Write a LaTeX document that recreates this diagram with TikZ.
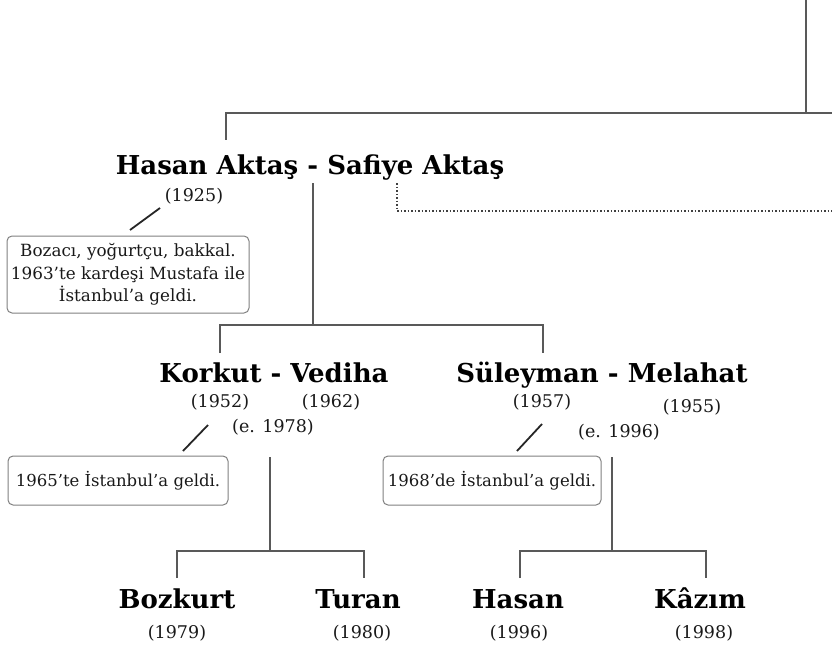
\documentclass[tikz,border=0pt]{standalone}
\usepackage{fontspec}
\setmainfont{DejaVu Serif}
\begin{document}
\begin{tikzpicture}[x=1pt,y=-1pt,
  conn/.style={draw=black!65,line width=1.3pt},
  slash/.style={draw=black!85,line width=1.8pt},
  dotl/.style={draw=black!75,line width=1.5pt,dotted},
  pname/.style={font=\fontsize{26}{29}\selectfont\bfseries,text=black,inner sep=0pt,anchor=base},
  yr/.style={font=\fontsize{17.5}{19}\selectfont,text=black!90,inner sep=0pt},
  note/.style={draw=black!50,line width=1pt,rounded corners=5pt,font=\fontsize{16.8}{22.5}\selectfont,text=black!90,align=center,inner sep=0pt},
  note1/.style={note,font=\fontsize{16.5}{21}\selectfont}]
\useasboundingbox (0,0) rectangle (832,650);
% generation 1
\node[pname] (g1) at (310,174) {Hasan Aktaş - Safiye Aktaş};
\node[yr] (y1925) at (194,196) {(1925)};
\node[note,minimum width=242pt,minimum height=77pt] (n1) at (128,274.5) {Bozacı, yoğurtçu, bakkal.\\1963'te kardeşi Mustafa ile\\İstanbul'a geldi.};
\coordinate (top) at (806,0);
\coordinate (tj) at (806,113);
\coordinate (tr) at (832,113);
\coordinate (tl) at (226,113);
\coordinate (g1in) at (226,140);
\draw[conn] (top) -- (tj);
\draw[conn] (tr) -- (tl) -- (g1in);
\coordinate (d1a) at (397,183);
\coordinate (d1b) at (397,211);
\coordinate (d1c) at (832,211);
\draw[dotl] (d1a) -- (d1b) -- (d1c);
\coordinate (s1a) at (160,208);
\coordinate (s1b) at (130,230);
\draw[slash] (s1a) -- (s1b);
% line to generation 2
\coordinate (g1out) at (313,183);
\coordinate (g2j) at (313,325);
\coordinate (g2l) at (220,325);
\coordinate (g2r) at (543,325);
\coordinate (g2la) at (220,353);
\coordinate (g2ra) at (543,353);
\draw[conn] (g1out) -- (g2j);
\draw[conn] (g2la) -- (g2l) -- (g2r) -- (g2ra);
% generation 2 left
\node[pname] (k) at (274,382) {Korkut - Vediha};
\node[yr] (y1952) at (220,402) {(1952)};
\node[yr] (y1962) at (331,402) {(1962)};
\node[yr] (e1978) at (273,427) {(e. 1978)};
\coordinate (s2a) at (208,425);
\coordinate (s2b) at (183,451);
\draw[slash] (s2a) -- (s2b);
\node[note1,minimum width=220pt,minimum height=49pt] (n2) at (118,480.5) {1965'te İstanbul'a geldi.};
\coordinate (k0) at (270,457);
\coordinate (kj) at (270,551);
\coordinate (kl) at (177,551);
\coordinate (kr) at (364,551);
\coordinate (kla) at (177,578);
\coordinate (kra) at (364,578);
\draw[conn] (k0) -- (kj);
\draw[conn] (kla) -- (kl) -- (kr) -- (kra);
% generation 2 right
\node[pname] (s) at (602,382) {Süleyman - Melahat};
\node[yr] (y1957) at (542,402) {(1957)};
\node[yr] (y1955) at (692,407) {(1955)};
\node[yr] (e1996) at (619,432) {(e. 1996)};
\coordinate (s3a) at (542,424);
\coordinate (s3b) at (517,451);
\draw[slash] (s3a) -- (s3b);
\node[note1,minimum width=218pt,minimum height=49pt] (n3) at (492,480.5) {1968'de İstanbul'a geldi.};
\coordinate (m0) at (612,457);
\coordinate (mj) at (612,551);
\coordinate (ml) at (520,551);
\coordinate (mr) at (706,551);
\coordinate (mla) at (520,578);
\coordinate (mra) at (706,578);
\draw[conn] (m0) -- (mj);
\draw[conn] (mla) -- (ml) -- (mr) -- (mra);
% generation 3
\node[pname] (bo) at (177,608) {Bozkurt};
\node[yr] (y1979) at (177,633) {(1979)};
\node[pname] (tu) at (358,608) {Turan};
\node[yr] (y1980) at (362,633) {(1980)};
\node[pname] (ha) at (518,608) {Hasan};
\node[yr] (y1996) at (519,633) {(1996)};
\node[pname] (ka) at (700,608) {Kâzım};
\node[yr] (y1998) at (704,633) {(1998)};
\end{tikzpicture}
\end{document}
